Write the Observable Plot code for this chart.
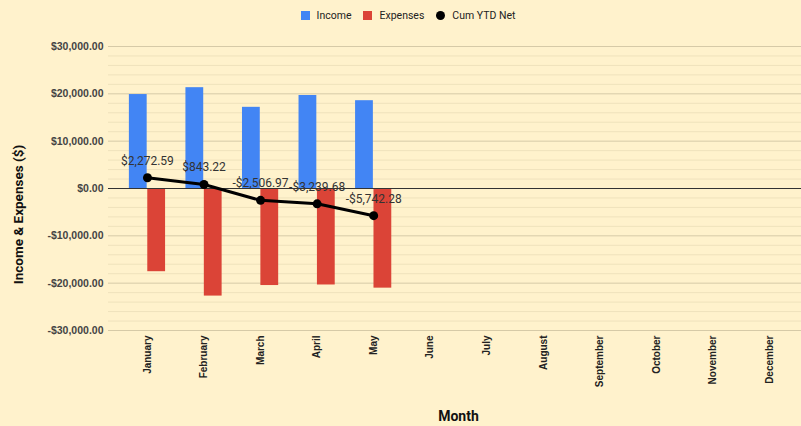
<!DOCTYPE html>
<html>
<head>
<meta charset="utf-8">
<script src="https://cdn.jsdelivr.net/npm/d3@7"></script>
<script src="https://cdn.jsdelivr.net/npm/@observablehq/plot@0.6"></script>
<style>
  html, body { margin: 0; padding: 0; background: #FFF2CC; }
  body { width: 801px; height: 426px; overflow: hidden; font-family: Roboto, sans-serif; }
  #legend { height: 31px; display: flex; justify-content: center; align-items: center; font-size: 10.5px; color: #222; padding-left: 15px; box-sizing: border-box; }
  .item { display: flex; align-items: center; margin: 0 6px; }
  .sw { width: 9px; height: 9px; margin-right: 7px; }
  .circ { width: 9px; height: 9px; border-radius: 50%; margin-right: 7px; background: #000; }
</style>
</head>
<body>
<div id="legend">
  <div class="item"><div class="sw" style="background:#4285F4"></div>Income</div>
  <div class="item"><div class="sw" style="background:#DB4437"></div>Expenses</div>
  <div class="item"><div class="circ"></div>Cum YTD Net</div>
</div>
<div id="chart"></div>
<script>
const months = ["January","February","March","April","May","June","July","August","September","October","November","December"];
const income = [19850, 21300, 17150, 19650, 18550];
const expenses = [17577.41, 22729.37, 20500.19, 20382.71, 21052.60];
const cumNet = [2272.59, 843.22, -2506.97, -3239.68, -5742.28];
const yMajorTicks = [-30000, -20000, -10000, 0, 10000, 20000, 30000];

const fmt = v => (v < 0 ? "-" : "") + "$" + d3.format(",.2f")(Math.abs(v));

const rows = income.map((inc, i) => ({
  month: months[i],
  income: inc,
  expenses: -expenses[i],
  net: cumNet[i]
}));

const minorTicks = d3.range(-30000, 30001, 2000).filter(v => v % 10000 !== 0);
const majorNoZero = yMajorTicks.filter(v => v !== 0);

const chart = Plot.plot({
  width: 801,
  height: 395,
  marginTop: 15,
  marginBottom: 96,
  marginLeft: 108,
  marginRight: 0,
  style: { background: "#FFF2CC", fontFamily: "Roboto, sans-serif" },
  x: { type: "band", domain: months, round: false, paddingInner: 0.36, paddingOuter: 0.18, insetLeft: 10.7, insetRight: 3.7 },
  y: { domain: [-30000, 30000] },
  marks: [
    Plot.ruleY(minorTicks, { stroke: "#efe2bc", strokeWidth: 1 }),
    Plot.ruleY(majorNoZero, { stroke: "#d6caa7", strokeWidth: 1 }),
    Plot.barY(rows, { x: "month", y: "income", fill: "#4285F4", insetRight: 18.4, insetLeft: 0 }),
    Plot.barY(rows, { x: "month", y: "expenses", fill: "#DB4437", insetLeft: 18.4, insetRight: 0 }),
    Plot.ruleY([0], { stroke: "#333", strokeWidth: 1 }),
    Plot.line(rows, { x: "month", y: "net", stroke: "#000", strokeWidth: 3 }),
    Plot.dot(rows, { x: "month", y: "net", r: 4.5, fill: "#000" }),
    Plot.text(rows, { x: "month", y: "net", text: d => fmt(d.net), dy: -17, fontSize: 12, fill: "#333" }),
    Plot.axisX({ tickSize: 0, tickPadding: 5, tickRotate: -90, fontSize: 10, fontWeight: "bold", fontFamily: "Liberation Sans, Arial, sans-serif", fill: "#222", label: null }),
    Plot.axisY({ ticks: yMajorTicks, tickSize: 0, tickPadding: 5, tickFormat: fmt, fontSize: 10.5, fontWeight: "bold", fontFamily: "Liberation Sans, Arial, sans-serif", fill: "#444", label: null }),
    Plot.text(["Income & Expenses ($)"], { frameAnchor: "left", textAnchor: "middle", lineAnchor: "middle", rotate: -90, dx: -90, dy: 26, fontSize: 13.5, fontWeight: "bold", fill: "#111" }),
    Plot.text(["Month"], { frameAnchor: "bottom", textAnchor: "middle", lineAnchor: "middle", dx: 3.5, dy: 86, fontSize: 14, fontWeight: "bold", fill: "#111" })
  ]
});
document.getElementById("chart").appendChild(chart);
</script>
</body>
</html>
